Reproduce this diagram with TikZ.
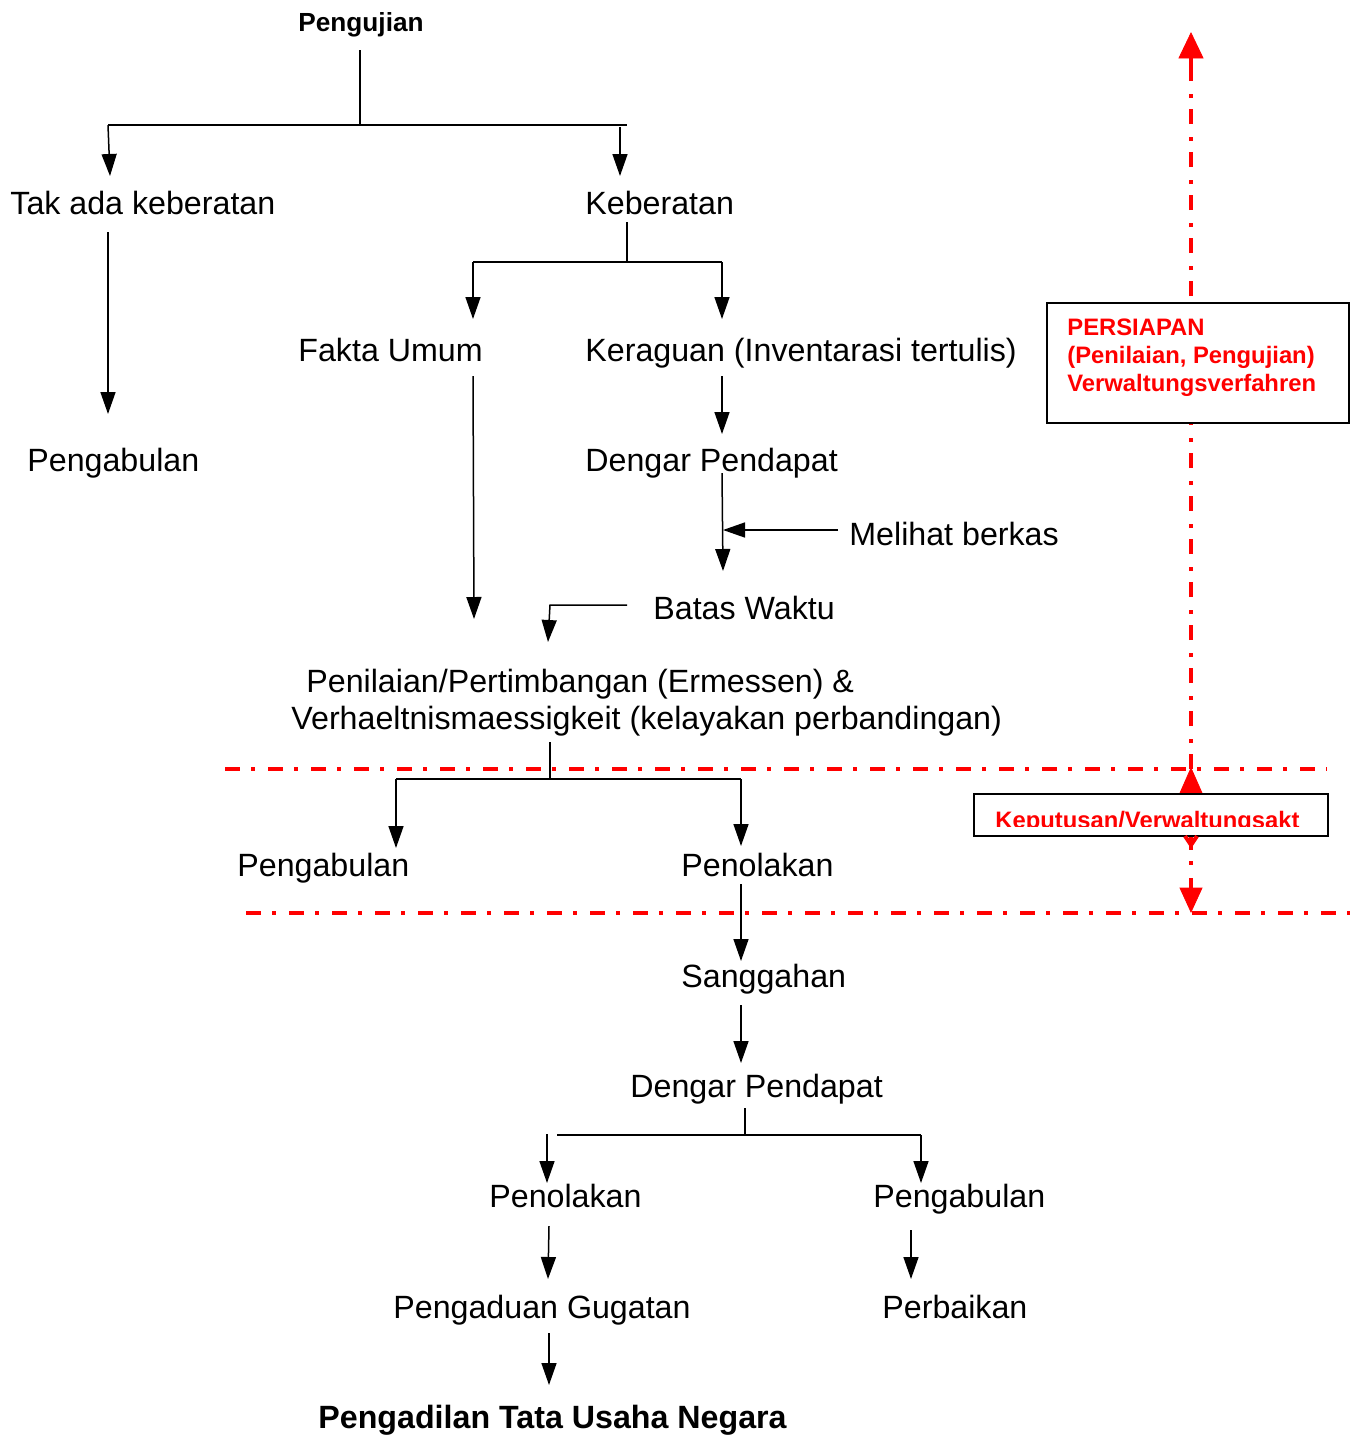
\documentclass[tikz,border=0pt]{standalone}
\usepackage{fontspec}
\setmainfont{Liberation Sans}
\usetikzlibrary{arrows.meta}
\definecolor{wred}{RGB}{255,0,0}
\tikzset{
  lbl/.style={inner sep=0pt, anchor=base west, font=\fontsize{16.1}{19}\selectfont},
  rlbl/.style={inner sep=0pt, anchor=base west, text=wred, font=\fontsize{11.9}{14}\selectfont\bfseries},
  ln/.style={line width=0.75pt, black},
  arr/.style={ln, -{Triangle[length=11pt,width=7.5pt]}},
  rdash/.style={wred, line width=2pt, dash pattern=on 7.5pt off 5.5pt on 2pt off 6.5pt},
  rvdash/.style={wred, line width=2pt, dash pattern=on 7.5pt off 5.5pt on 2pt off 6.5pt},
  boxstyle/.style={draw=black, line width=0.75pt, fill=white}
}
\begin{document}
\begin{tikzpicture}[x=0.5pt,y=-0.5pt]
\useasboundingbox (0,0) rectangle (1355,1436);

% ---------- labels ----------
\node[lbl, font=\fontsize{13.1}{16}\selectfont\bfseries] (peng) at (298,31) {Pengujian};
\node[lbl] (tak) at (10,214) {Tak ada keberatan};
\node[lbl] (keb) at (585,214) {Keberatan};
\node[lbl] (fakta) at (298,361) {Fakta Umum};
\node[lbl] (ker) at (585,361) {Keraguan (Inventarasi tertulis)};
\node[lbl] (pab1) at (27,471) {Pengabulan};
\node[lbl] (dp1) at (585,471) {Dengar Pendapat};
\node[lbl] (mel) at (849,545) {Melihat berkas};
\node[lbl] (batas) at (653,619) {Batas Waktu};
\node[lbl] (pen1) at (306,692) {Penilaian/Pertimbangan (Ermessen) \&};
\node[lbl] (pen2) at (291,729) {Verhaeltnismaessigkeit (kelayakan perbandingan)};
\node[lbl] (pab2) at (237,876) {Pengabulan};
\node[lbl] (tol1) at (681,876) {Penolakan};
\node[lbl] (sang) at (681,987) {Sanggahan};
\node[lbl] (dp2) at (630,1097) {Dengar Pendapat};
\node[lbl] (tol2) at (489,1207) {Penolakan};
\node[lbl] (pab3) at (873,1207) {Pengabulan};
\node[lbl] (gug) at (393,1318) {Pengaduan Gugatan};
\node[lbl] (baik) at (882,1318) {Perbaikan};
\node[lbl, font=\fontsize{16.1}{19}\selectfont\bfseries] (ptun) at (318,1428) {Pengadilan Tata Usaha Negara};

% ---------- black connectors ----------
\draw[ln] (360,50) -- (360,125);
\draw[ln] (108,125) -- (627,125);
\draw[arr] (108,125) -- (110,176);
\draw[arr] (620,127) -- (620,176);
\draw[arr] (108,232) -- (108,414);
\draw[ln] (627,222) -- (627,262);
\draw[ln] (473,262) -- (722,262);
\draw[arr] (473,262) -- (473,319);
\draw[arr] (722,262) -- (722,319);
\draw[arr] (473,376) -- (474,619);
\draw[arr] (722,376) -- (722,434);
\draw[arr] (722,473) -- (723,571);
\draw[arr] (838,530) -- (723,530);
\draw[arr] (627,605) -- (550,605) -- (548,642);
\draw[ln] (550,742) -- (550,779);
\draw[ln] (396,779) -- (741,779);
\draw[arr] (396,779) -- (396,848);
\draw[arr] (741,779) -- (741,846);
\draw[arr] (741,884) -- (741,961);
\draw[arr] (741,1005) -- (741,1063);
\draw[ln] (745,1108) -- (745,1135);
\draw[ln] (557,1135) -- (921,1135);
\draw[arr] (547,1134) -- (547,1183);
\draw[arr] (921,1135) -- (921,1183);
\draw[arr] (549,1226) -- (548,1279);
\draw[arr] (911,1230) -- (911,1279);
\draw[arr] (549,1333) -- (549,1385);

% ---------- red dash-dot lines ----------
\draw[rdash] (225,769) -- (1327,769);
\draw[rdash] (246,913) -- (1350,913);
\draw[rvdash] (1191,769) -- (1191,60);
\draw[wred, fill=wred] (1191,33) -- (1203,58) -- (1179,58) -- cycle;
\draw[wred, line width=2pt] (1191,58) -- (1191,68);
\draw[wred, fill=wred] (1191,768) -- (1202,793) -- (1180,793) -- cycle;
\draw[rvdash] (1191,835) -- (1191,890);
\draw[wred, fill=wred] (1191,912) -- (1202,888) -- (1180,888) -- cycle;

% ---------- red boxes ----------
\node[boxstyle, minimum width=151pt, minimum height=60pt, anchor=north west] (prep) at (1046,302) {};
\node[rlbl] (prep1) at (1067,335) {PERSIAPAN};
\node[rlbl] (prep2) at (1067,363) {(Penilaian, Pengujian)};
\node[rlbl] (prep3) at (1067,391) {Verwaltungsverfahren};

\node[boxstyle, minimum width=177pt, minimum height=21pt, anchor=north west] (kep) at (973,793) {};
\begin{scope}
\clip (973,793) rectangle (1327,826);
\node[rlbl] (kept) at (995,828) {Keputusan/Verwaltungsakt};
\end{scope}
\draw[wred, line width=2pt] (1185,836) -- (1191,845) -- (1197,836);
\end{tikzpicture}
\end{document}
